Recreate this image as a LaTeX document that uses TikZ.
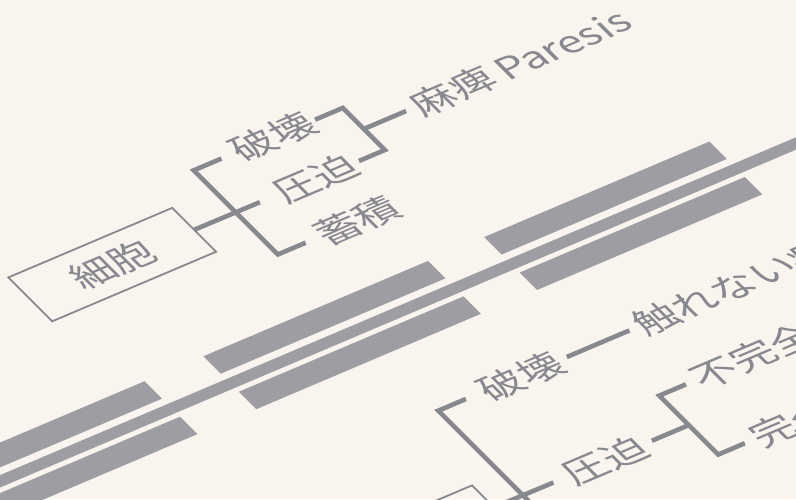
\documentclass[tikz,border=0pt]{standalone}
\usepackage{fontspec}
\setmainfont{Noto Sans CJK JP}
\definecolor{paper}{HTML}{FAF4EF}
\definecolor{ink}{HTML}{88888F}
\definecolor{barc}{HTML}{9D9DA3}
\tikzset{
  lbl/.style={anchor=west, inner sep=0pt, outer sep=0pt, transform shape, text=ink, font=\fontsize{42}{50}\selectfont},
  brk/.style={draw=ink, line width=4.6pt, line join=miter, line cap=butt},
  cellbox/.style={draw=ink, line width=1.8pt, minimum width=178pt, minimum height=73pt, inner sep=0pt, outer sep=0pt, transform shape, text=ink, font=\fontsize{42}{50}\selectfont},
  barfill/.style={fill=barc},
}
\begin{document}
\begin{tikzpicture}[x=1pt,y=1pt]
\useasboundingbox (0,0) rectangle (796,-499);
\clip (0,0) rectangle (796,-499);
\fill[paper] (0,0) rectangle (796,-499);
\begin{scope}[cm={0.9205,0.3907,-0.601,0.601,(0,0)}]
% ---- divider bars ----
\fill[barfill] (-800,-555) -- (800,-555) -- (800,-569.5) -- (-800,-569.5) -- cycle;
\foreach \a/\b in {-421/-180.5, -116.5/127.5, 188.5/433} {
  \fill[barfill] (\a,-517) -- (\b,-517) -- (\b,-546) -- (\a,-546) -- cycle;
  \fill[barfill] (\a,-576) -- (\b,-576) -- (\b,-605) -- (\a,-605) -- cycle;
}
% ---- upper tree ----
\node[cellbox] (cell) at (-116.2,-364.7) {細胞};
\node[lbl] (ha1) at (62,-295) {破壊};
\node[lbl] (ap1) at (62,-365) {圧迫};
\node[lbl] (ch1) at (62,-435) {蓄積};
\node[lbl] (mahi) at (234,-331) {麻痺\hspace{8pt}Paresis};
\coordinate (u1a) at (48,-295);
\coordinate (u1b) at (17.8,-295);
\coordinate (u1c) at (17.8,-435);
\coordinate (u1d) at (48,-435);
\coordinate (u1x) at (44,-365);
\draw[brk] (u1a) -- (u1b) -- (u1c) -- (u1d);
\draw[brk] (cell.east) -- (u1x);
\coordinate (u2a) at (149,-296);
\coordinate (u2b) at (179.2,-296);
\coordinate (u2c) at (179.2,-366);
\coordinate (u2d) at (151,-366);
\coordinate (u2m) at (179.2,-331);
\draw[brk] (u2a) -- (u2b) -- (u2c) -- (u2d);
\draw[brk, shorten >=9pt] (u2m) -- (mahi.west);
% ---- lower tree ----
\node[cellbox] (cell2) at (-99.2,-837.5) {};
\node[lbl] (ha2) at (68,-698) {破壊};
\node[lbl] (ap2) at (68,-838) {圧迫};
\node[lbl] (fure) at (236,-698) {触れない症};
\node[lbl] (fuk) at (240,-789) {不完全};
\node[lbl] (kan) at (240,-887) {完全};
\coordinate (l1a) at (51,-697);
\coordinate (l1b) at (21,-697);
\coordinate (l1c) at (21,-990);
\coordinate (l1x) at (54,-838);
\draw[brk] (l1a) -- (l1b) -- (l1c);
\draw[brk] (cell2.east) -- (l1x);
\draw[brk, shorten <=8pt, shorten >=8pt] (ha2.east) -- (fure.west);
\coordinate (l2a) at (230,-789);
\coordinate (l2b) at (201,-789);
\coordinate (l2c) at (201,-887);
\coordinate (l2d) at (230,-887);
\coordinate (l2m) at (201,-838);
\draw[brk] (l2a) -- (l2b) -- (l2c) -- (l2d);
\draw[brk, shorten <=9pt] (ap2.east) -- (l2m);
\end{scope}
\end{tikzpicture}
\end{document}
